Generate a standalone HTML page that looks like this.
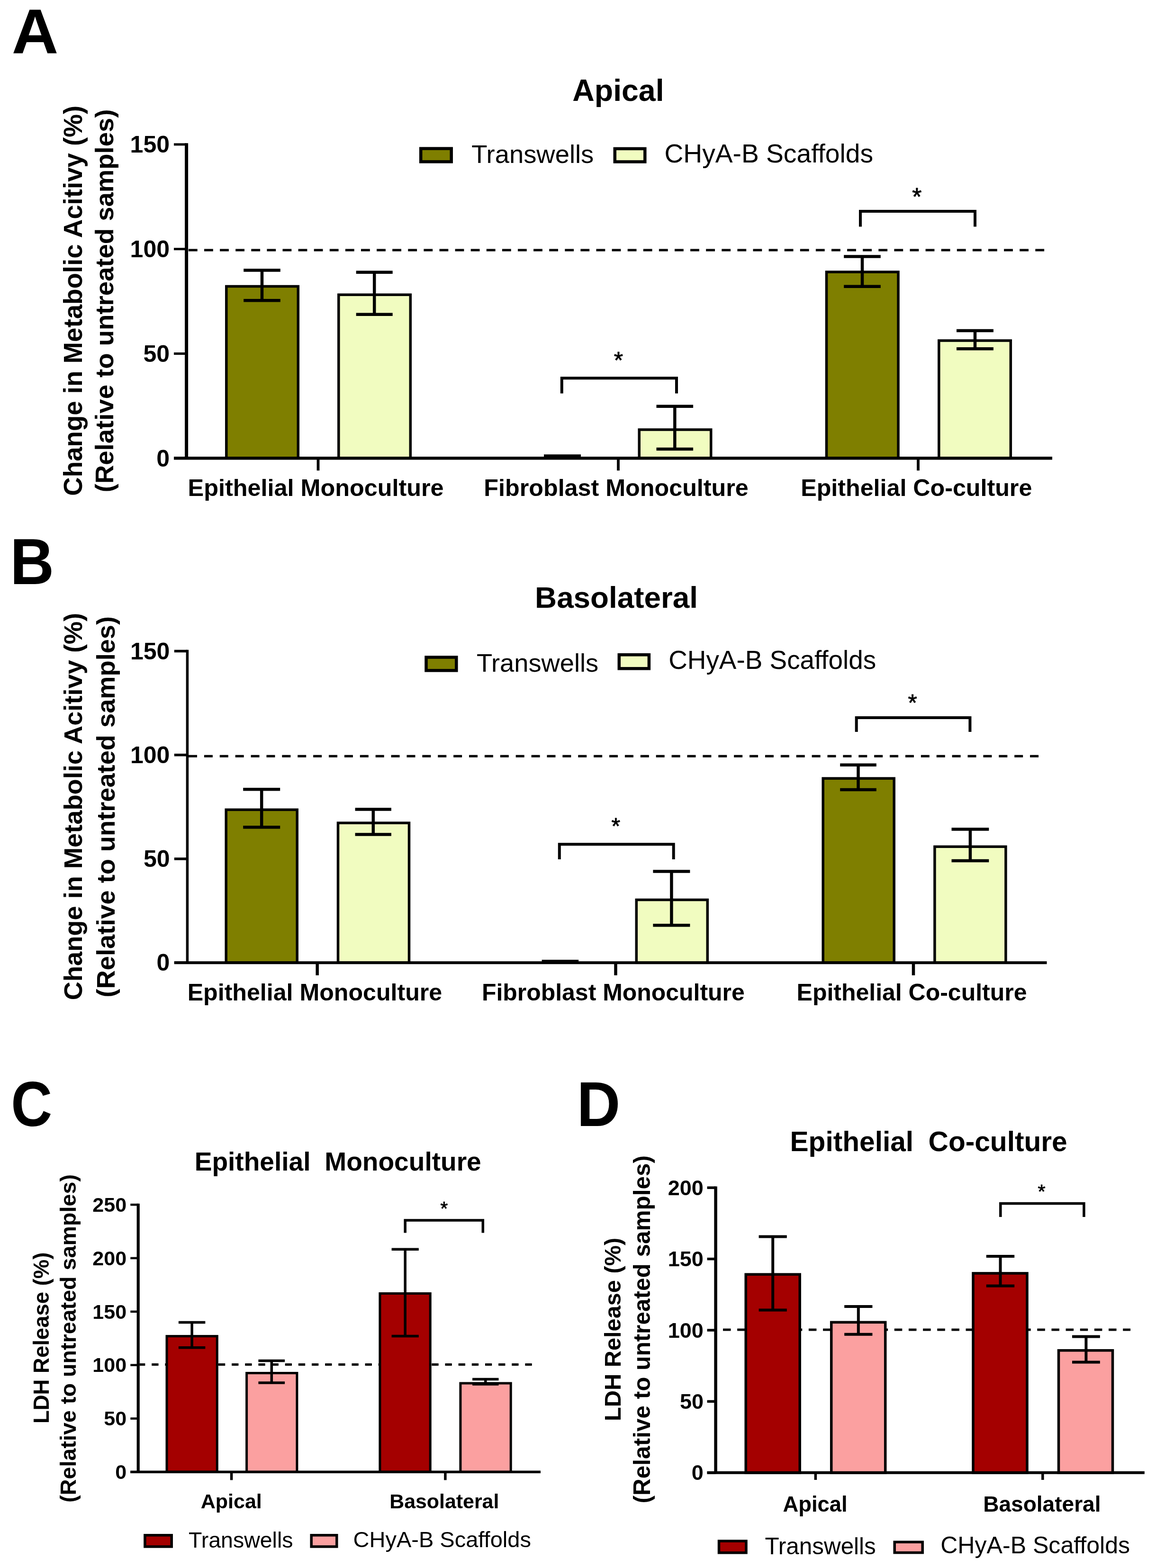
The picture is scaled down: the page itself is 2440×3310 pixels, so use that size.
<!DOCTYPE html><html><head><meta charset="utf-8"><style>html,body{margin:0;padding:0;background:#fff}svg{display:block}</style></head><body>
<svg width="2440" height="3310" viewBox="0 0 2440 3310" font-family="'Liberation Sans', Arial, sans-serif" fill="#000">
<rect width="2440" height="3310" fill="#fff"/>
<g stroke="#000" stroke-linecap="butt">
<line x1="397.5" y1="528.0" x2="2206.3" y2="528.0" stroke-width="5" stroke-dasharray="18.8 14.30" stroke-dashoffset="32.70"/>
<rect x="477.8" y="604.5" width="151.5" height="362.8" fill="#7f7f00" stroke-width="5.5"/>
<rect x="714.8" y="622.2" width="151.5" height="345.0" fill="#f1fcc0" stroke-width="5.5"/>
<rect x="1349.2" y="907.0" width="151.5" height="60.2" fill="#f1fcc0" stroke-width="5.5"/>
<rect x="1744.5" y="574.1" width="151.5" height="393.1" fill="#7f7f00" stroke-width="5.5"/>
<rect x="1981.8" y="719.0" width="151.5" height="248.3" fill="#f1fcc0" stroke-width="5.5"/>
<line x1="393.6" y1="302.3" x2="393.6" y2="967.3" stroke-width="7"/>
<line x1="367.0" y1="967.3" x2="393.6" y2="967.3" stroke-width="5"/>
<line x1="367.0" y1="746.5" x2="393.6" y2="746.5" stroke-width="5"/>
<line x1="367.0" y1="525.7" x2="393.6" y2="525.7" stroke-width="5"/>
<line x1="367.0" y1="304.9" x2="393.6" y2="304.9" stroke-width="5"/>
<line x1="367.0" y1="967.3" x2="2221.0" y2="967.3" stroke-width="6.5"/>
<line x1="671.5" y1="967.3" x2="671.5" y2="993.3" stroke-width="5.8"/>
<line x1="1305.0" y1="967.3" x2="1305.0" y2="993.3" stroke-width="5.8"/>
<line x1="1938.0" y1="967.3" x2="1938.0" y2="993.3" stroke-width="5.8"/>
<line x1="553.0" y1="570.5" x2="553.0" y2="634.3" stroke-width="6.5"/>
<line x1="514.2" y1="570.5" x2="591.8" y2="570.5" stroke-width="6.5"/>
<line x1="514.2" y1="634.3" x2="591.8" y2="634.3" stroke-width="6.5"/>
<line x1="790.2" y1="574.8" x2="790.2" y2="663.7" stroke-width="6.5"/>
<line x1="751.7" y1="574.8" x2="828.7" y2="574.8" stroke-width="6.5"/>
<line x1="751.7" y1="663.7" x2="828.7" y2="663.7" stroke-width="6.5"/>
<line x1="1148.0" y1="962.5" x2="1226.0" y2="962.5" stroke-width="6.5"/>
<line x1="1424.3" y1="857.7" x2="1424.3" y2="948.0" stroke-width="6.5"/>
<line x1="1385.5" y1="857.7" x2="1463.1" y2="857.7" stroke-width="6.5"/>
<line x1="1385.5" y1="948.0" x2="1463.1" y2="948.0" stroke-width="6.5"/>
<line x1="1820.0" y1="541.5" x2="1820.0" y2="604.7" stroke-width="6.5"/>
<line x1="1781.2" y1="541.5" x2="1858.8" y2="541.5" stroke-width="6.5"/>
<line x1="1781.2" y1="604.7" x2="1858.8" y2="604.7" stroke-width="6.5"/>
<line x1="2058.0" y1="697.9" x2="2058.0" y2="736.2" stroke-width="6.5"/>
<line x1="2019.0" y1="697.9" x2="2096.9" y2="697.9" stroke-width="6.5"/>
<line x1="2019.0" y1="736.2" x2="2096.9" y2="736.2" stroke-width="6.5"/>
<polyline points="1185.8,830.5 1185.8,798.3 1428.0,798.3 1428.0,830.5" fill="none" stroke-width="6" stroke-linejoin="miter"/>
<polyline points="1816.0,478.5 1816.0,445.9 2058.0,445.9 2058.0,478.5" fill="none" stroke-width="6" stroke-linejoin="miter"/>
<rect x="888.2" y="313.6" width="64.5" height="27.8" fill="#7f7f00" stroke-width="6.5"/>
<rect x="1297.8" y="313.9" width="63.5" height="27.6" fill="#f1fcc0" stroke-width="6.5"/>
<line x1="398.0" y1="1596.3" x2="2193.0" y2="1596.3" stroke-width="5" stroke-dasharray="18 14.89" stroke-dashoffset="32.88"/>
<rect x="477.2" y="1709.3" width="150.0" height="322.9" fill="#7f7f00" stroke-width="5.5"/>
<rect x="713.5" y="1737.2" width="150.0" height="295.0" fill="#f1fcc0" stroke-width="5.5"/>
<rect x="1343.3" y="1899.5" width="150.0" height="132.8" fill="#f1fcc0" stroke-width="5.5"/>
<rect x="1737.2" y="1643.2" width="150.0" height="389.0" fill="#7f7f00" stroke-width="5.5"/>
<rect x="1972.9" y="1787.3" width="150.0" height="244.9" fill="#f1fcc0" stroke-width="5.5"/>
<line x1="395.4" y1="1371.8" x2="395.4" y2="2032.2" stroke-width="5.5"/>
<line x1="367.8" y1="2032.2" x2="395.4" y2="2032.2" stroke-width="5.5"/>
<line x1="367.8" y1="1813.0" x2="395.4" y2="1813.0" stroke-width="5.5"/>
<line x1="367.8" y1="1593.7" x2="395.4" y2="1593.7" stroke-width="5.5"/>
<line x1="367.8" y1="1374.5" x2="395.4" y2="1374.5" stroke-width="5.5"/>
<line x1="367.8" y1="2032.2" x2="2209.5" y2="2032.2" stroke-width="6"/>
<line x1="669.7" y1="2032.2" x2="669.7" y2="2058.8" stroke-width="6.5"/>
<line x1="1299.5" y1="2032.2" x2="1299.5" y2="2058.8" stroke-width="6.5"/>
<line x1="1928.0" y1="2032.2" x2="1928.0" y2="2058.8" stroke-width="6.5"/>
<line x1="552.2" y1="1666.3" x2="552.2" y2="1746.3" stroke-width="6.5"/>
<line x1="513.2" y1="1666.3" x2="591.2" y2="1666.3" stroke-width="6.5"/>
<line x1="513.2" y1="1746.3" x2="591.2" y2="1746.3" stroke-width="6.5"/>
<line x1="787.8" y1="1708.5" x2="787.8" y2="1761.4" stroke-width="6.5"/>
<line x1="749.6" y1="1708.5" x2="825.9" y2="1708.5" stroke-width="6.5"/>
<line x1="749.6" y1="1761.4" x2="825.9" y2="1761.4" stroke-width="6.5"/>
<line x1="1143.6" y1="2029.3" x2="1221.2" y2="2029.3" stroke-width="6.5"/>
<line x1="1417.4" y1="1839.6" x2="1417.4" y2="1953.3" stroke-width="6.5"/>
<line x1="1378.4" y1="1839.6" x2="1456.4" y2="1839.6" stroke-width="6.5"/>
<line x1="1378.4" y1="1953.3" x2="1456.4" y2="1953.3" stroke-width="6.5"/>
<line x1="1811.5" y1="1614.8" x2="1811.5" y2="1667.0" stroke-width="6.5"/>
<line x1="1773.2" y1="1614.8" x2="1849.8" y2="1614.8" stroke-width="6.5"/>
<line x1="1773.2" y1="1667.0" x2="1849.8" y2="1667.0" stroke-width="6.5"/>
<line x1="2047.9" y1="1750.6" x2="2047.9" y2="1816.9" stroke-width="6.5"/>
<line x1="2008.5" y1="1750.6" x2="2087.3" y2="1750.6" stroke-width="6.5"/>
<line x1="2008.5" y1="1816.9" x2="2087.3" y2="1816.9" stroke-width="6.5"/>
<polyline points="1180.8,1814.0 1180.8,1782.3 1421.7,1782.3 1421.7,1814.0" fill="none" stroke-width="6" stroke-linejoin="miter"/>
<polyline points="1807.7,1545.0 1807.7,1514.9 2047.4,1514.9 2047.4,1545.0" fill="none" stroke-width="6" stroke-linejoin="miter"/>
<rect x="899.5" y="1387.5" width="63.8" height="27.9" fill="#7f7f00" stroke-width="6.5"/>
<rect x="1306.8" y="1382.2" width="63.1" height="29.1" fill="#f1fcc0" stroke-width="6.5"/>
<line x1="294.8" y1="2880.6" x2="1126.6" y2="2880.6" stroke-width="5" stroke-dasharray="14.3 13.85" stroke-dashoffset="2.75"/>
<rect x="352.0" y="2820.6" width="106.3" height="286.7" fill="#a40000" stroke-width="5"/>
<rect x="520.6" y="2898.5" width="106.3" height="208.8" fill="#fba0a0" stroke-width="5"/>
<rect x="801.9" y="2730.5" width="106.3" height="376.8" fill="#a40000" stroke-width="5"/>
<rect x="971.9" y="2920.0" width="106.3" height="187.3" fill="#fba0a0" stroke-width="5"/>
<line x1="291.7" y1="2540.8" x2="291.7" y2="3107.3" stroke-width="6.2"/>
<line x1="275.3" y1="3107.3" x2="291.7" y2="3107.3" stroke-width="4.6"/>
<line x1="275.3" y1="2994.5" x2="291.7" y2="2994.5" stroke-width="4.6"/>
<line x1="275.3" y1="2881.6" x2="291.7" y2="2881.6" stroke-width="4.6"/>
<line x1="275.3" y1="2768.8" x2="291.7" y2="2768.8" stroke-width="4.6"/>
<line x1="275.3" y1="2655.9" x2="291.7" y2="2655.9" stroke-width="4.6"/>
<line x1="275.3" y1="2543.1" x2="291.7" y2="2543.1" stroke-width="4.6"/>
<line x1="275.3" y1="3107.3" x2="1141.0" y2="3107.3" stroke-width="5.5"/>
<line x1="488.6" y1="3107.3" x2="488.6" y2="3124.4" stroke-width="5.5"/>
<line x1="939.9" y1="3107.3" x2="939.9" y2="3124.4" stroke-width="5.5"/>
<line x1="405.1" y1="2791.4" x2="405.1" y2="2844.7" stroke-width="5.5"/>
<line x1="376.9" y1="2791.4" x2="433.3" y2="2791.4" stroke-width="5.5"/>
<line x1="376.9" y1="2844.7" x2="433.3" y2="2844.7" stroke-width="5.5"/>
<line x1="573.3" y1="2872.5" x2="573.3" y2="2919.0" stroke-width="5.5"/>
<line x1="545.4" y1="2872.5" x2="601.1" y2="2872.5" stroke-width="5.5"/>
<line x1="545.4" y1="2919.0" x2="601.1" y2="2919.0" stroke-width="5.5"/>
<line x1="855.2" y1="2637.2" x2="855.2" y2="2820.5" stroke-width="5.5"/>
<line x1="826.6" y1="2637.2" x2="883.8" y2="2637.2" stroke-width="5.5"/>
<line x1="826.6" y1="2820.5" x2="883.8" y2="2820.5" stroke-width="5.5"/>
<line x1="1024.8" y1="2911.5" x2="1024.8" y2="2922.0" stroke-width="5.5"/>
<line x1="997.1" y1="2911.5" x2="1052.5" y2="2911.5" stroke-width="5.5"/>
<line x1="997.1" y1="2922.0" x2="1052.5" y2="2922.0" stroke-width="5.5"/>
<polyline points="855.2,2602.5 855.2,2575.9 1019.3,2575.9 1019.3,2602.5" fill="none" stroke-width="5.5" stroke-linejoin="miter"/>
<rect x="305.9" y="3240.8" width="56.3" height="24.1" fill="#a40000" stroke-width="5.5"/>
<rect x="657.2" y="3240.8" width="53.6" height="24.1" fill="#fba0a0" stroke-width="5.5"/>
<line x1="1513.9" y1="2807.0" x2="2386.1" y2="2807.0" stroke-width="5" stroke-dasharray="16.5 13.65" stroke-dashoffset="18.05"/>
<rect x="1574.2" y="2690.2" width="114.0" height="418.7" fill="#a40000" stroke-width="5.5"/>
<rect x="1754.7" y="2791.3" width="114.0" height="317.5" fill="#fba0a0" stroke-width="5.5"/>
<rect x="2054.0" y="2687.9" width="114.0" height="420.9" fill="#a40000" stroke-width="5.5"/>
<rect x="2234.5" y="2850.7" width="114.0" height="258.2" fill="#fba0a0" stroke-width="5.5"/>
<line x1="1510.6" y1="2504.4" x2="1510.6" y2="3108.8" stroke-width="6.5"/>
<line x1="1492.6" y1="3108.8" x2="1510.6" y2="3108.8" stroke-width="5.5"/>
<line x1="1492.6" y1="2958.4" x2="1510.6" y2="2958.4" stroke-width="5.5"/>
<line x1="1492.6" y1="2808.0" x2="1510.6" y2="2808.0" stroke-width="5.5"/>
<line x1="1492.6" y1="2657.6" x2="1510.6" y2="2657.6" stroke-width="5.5"/>
<line x1="1492.6" y1="2507.2" x2="1510.6" y2="2507.2" stroke-width="5.5"/>
<line x1="1492.6" y1="3108.8" x2="2415.8" y2="3108.8" stroke-width="6"/>
<line x1="1721.4" y1="3108.8" x2="1721.4" y2="3124.0" stroke-width="5.5"/>
<line x1="2200.8" y1="3108.8" x2="2200.8" y2="3124.0" stroke-width="5.5"/>
<line x1="1631.2" y1="2610.5" x2="1631.2" y2="2765.5" stroke-width="6"/>
<line x1="1601.6" y1="2610.5" x2="1660.8" y2="2610.5" stroke-width="6"/>
<line x1="1601.6" y1="2765.5" x2="1660.8" y2="2765.5" stroke-width="6"/>
<line x1="1811.8" y1="2758.0" x2="1811.8" y2="2816.8" stroke-width="6"/>
<line x1="1782.2" y1="2758.0" x2="1841.4" y2="2758.0" stroke-width="6"/>
<line x1="1782.2" y1="2816.8" x2="1841.4" y2="2816.8" stroke-width="6"/>
<line x1="2111.5" y1="2652.0" x2="2111.5" y2="2714.5" stroke-width="6"/>
<line x1="2081.8" y1="2652.0" x2="2141.2" y2="2652.0" stroke-width="6"/>
<line x1="2081.8" y1="2714.5" x2="2141.2" y2="2714.5" stroke-width="6"/>
<line x1="2292.4" y1="2821.4" x2="2292.4" y2="2875.5" stroke-width="6"/>
<line x1="2263.0" y1="2821.4" x2="2321.8" y2="2821.4" stroke-width="6"/>
<line x1="2263.0" y1="2875.5" x2="2321.8" y2="2875.5" stroke-width="6"/>
<polyline points="2111.8,2569.0 2111.8,2540.5 2287.9,2540.5 2287.9,2569.0" fill="none" stroke-width="5.5" stroke-linejoin="miter"/>
<rect x="1517.5" y="3253.1" width="57.5" height="24.7" fill="#a40000" stroke-width="5.5"/>
<rect x="1888.2" y="3255.2" width="59.0" height="22.4" fill="#fba0a0" stroke-width="5.5"/>
</g>
<text transform="translate(28.1,112.8) scale(1.0161,1)" x="-3.36" y="0" font-size="134.40" font-weight="bold">A</text>
<text transform="translate(30.0,1233.3) scale(0.9372,1)" x="-9.27" y="0" font-size="137.31" font-weight="bold">B</text>
<text transform="translate(28.1,2376.5) scale(0.9076,1)" x="-5.31" y="0" font-size="132.72" font-weight="bold">C</text>
<text transform="translate(1226.2,2376.8) scale(0.9463,1)" x="-9.07" y="0" font-size="134.40" font-weight="bold">D</text>
<text x="1208.3" y="212.6" font-size="64.41" font-weight="bold">Apical</text>
<text x="995.3" y="344.2" font-size="54.41" font-weight="normal">Transwells</text>
<text x="1402.5" y="342.5" font-size="55.18" font-weight="normal">CHyA-B Scaffolds</text>
<text x="330.2" y="984.5" font-size="50.00" font-weight="bold">0</text>
<text x="302.5" y="763.7" font-size="50.00" font-weight="bold">50</text>
<text x="274.6" y="542.9" font-size="50.00" font-weight="bold">100</text>
<text x="274.6" y="322.1" font-size="50.00" font-weight="bold">150</text>
<text transform="translate(173.4,1046.7) rotate(-90)" font-size="54.65" font-weight="bold">Change in Metabolic Acitivy (%)</text>
<text transform="translate(239.3,1039.2) rotate(-90)" font-size="54.51" font-weight="bold">(Relative to untreated samples)</text>
<text x="396.6" y="1047.0" font-size="50.36" font-weight="bold">Epithelial Monoculture</text>
<text x="1021.3" y="1047.0" font-size="50.28" font-weight="bold">Fibroblast Monoculture</text>
<text x="1690.2" y="1047.0" font-size="50.21" font-weight="bold">Epithelial Co-culture</text>
<text x="1295.8" y="777.5" font-size="49.71" stroke="#000" stroke-width="0.9" stroke-linejoin="round">*</text>
<text x="1925.3" y="433.1" font-size="51.71" stroke="#000" stroke-width="0.9" stroke-linejoin="round">*</text>
<text x="1129.1" y="1282.6" font-size="63.77" font-weight="bold">Basolateral</text>
<text x="1005.9" y="1417.5" font-size="54.28" font-weight="normal">Transwells</text>
<text x="1411.2" y="1411.7" font-size="54.86" font-weight="normal">CHyA-B Scaffolds</text>
<text x="330.6" y="2049.4" font-size="50.00" font-weight="bold">0</text>
<text x="302.9" y="1830.2" font-size="50.00" font-weight="bold">50</text>
<text x="275.0" y="1610.9" font-size="50.00" font-weight="bold">100</text>
<text x="275.0" y="1391.7" font-size="50.00" font-weight="bold">150</text>
<text transform="translate(173.4,2111.2) rotate(-90)" font-size="54.22" font-weight="bold">Change in Metabolic Acitivy (%)</text>
<text transform="translate(241.8,2105.4) rotate(-90)" font-size="54.22" font-weight="bold">(Relative to untreated samples)</text>
<text x="395.7" y="2112.0" font-size="50.14" font-weight="bold">Epithelial Monoculture</text>
<text x="1016.9" y="2111.5" font-size="49.95" font-weight="bold">Fibroblast Monoculture</text>
<text x="1681.6" y="2111.5" font-size="49.98" font-weight="bold">Epithelial Co-culture</text>
<text x="1290.6" y="1760.2" font-size="48.00" stroke="#000" stroke-width="0.9" stroke-linejoin="round">*</text>
<text x="1916.6" y="1501.1" font-size="49.43" stroke="#000" stroke-width="0.9" stroke-linejoin="round">*</text>
<text x="410.7" y="2471.2" font-size="55.09" font-weight="bold">Epithelial</text>
<text x="685.3" y="2471.2" font-size="55.09" font-weight="bold">Monoculture</text>
<text x="243.2" y="3122.1" font-size="43.00" font-weight="bold">0</text>
<text x="219.3" y="3009.2" font-size="43.00" font-weight="bold">50</text>
<text x="195.3" y="2896.4" font-size="43.00" font-weight="bold">100</text>
<text x="195.3" y="2783.6" font-size="43.00" font-weight="bold">150</text>
<text x="195.3" y="2670.7" font-size="43.00" font-weight="bold">200</text>
<text x="195.3" y="2557.9" font-size="43.00" font-weight="bold">250</text>
<text transform="translate(103.0,3005.1) rotate(-90)" font-size="45.50" font-weight="bold">LDH Release (%)</text>
<text transform="translate(160.0,3171.7) rotate(-90)" font-size="46.69" font-weight="bold">(Relative to untreated samples)</text>
<text x="423.7" y="3184.0" font-size="43.03" font-weight="bold">Apical</text>
<text x="822.2" y="3184.0" font-size="42.89" font-weight="bold">Basolateral</text>
<text x="398.0" y="3267.2" font-size="46.51" font-weight="normal">Transwells</text>
<text x="745.5" y="3265.5" font-size="47.03" font-weight="normal">CHyA-B Scaffolds</text>
<text x="929.4" y="2565.1" font-size="40.29" stroke="#000" stroke-width="0.9" stroke-linejoin="round">*</text>
<text x="1667.5" y="2430.0" font-size="58.64" font-weight="bold">Epithelial</text>
<text x="1959.6" y="2430.0" font-size="58.64" font-weight="bold">Co-culture</text>
<text x="1459.8" y="3124.3" font-size="45.00" font-weight="bold">0</text>
<text x="1434.9" y="2973.9" font-size="45.00" font-weight="bold">50</text>
<text x="1409.8" y="2823.5" font-size="45.00" font-weight="bold">100</text>
<text x="1409.8" y="2673.1" font-size="45.00" font-weight="bold">150</text>
<text x="1409.8" y="2522.7" font-size="45.00" font-weight="bold">200</text>
<text transform="translate(1310.4,2999.9) rotate(-90)" font-size="48.72" font-weight="bold">LDH Release (%)</text>
<text transform="translate(1372.0,3173.4) rotate(-90)" font-size="49.51" font-weight="bold">(Relative to untreated samples)</text>
<text x="1652.5" y="3190.8" font-size="45.34" font-weight="bold">Apical</text>
<text x="2075.2" y="3190.8" font-size="46.07" font-weight="bold">Basolateral</text>
<text x="1614.5" y="3280.5" font-size="49.41" font-weight="normal">Transwells</text>
<text x="1985.2" y="3278.9" font-size="50.08" font-weight="normal">CHyA-B Scaffolds</text>
<text x="2190.4" y="2528.6" font-size="41.43" stroke="#000" stroke-width="0.9" stroke-linejoin="round">*</text>
</svg></body></html>
